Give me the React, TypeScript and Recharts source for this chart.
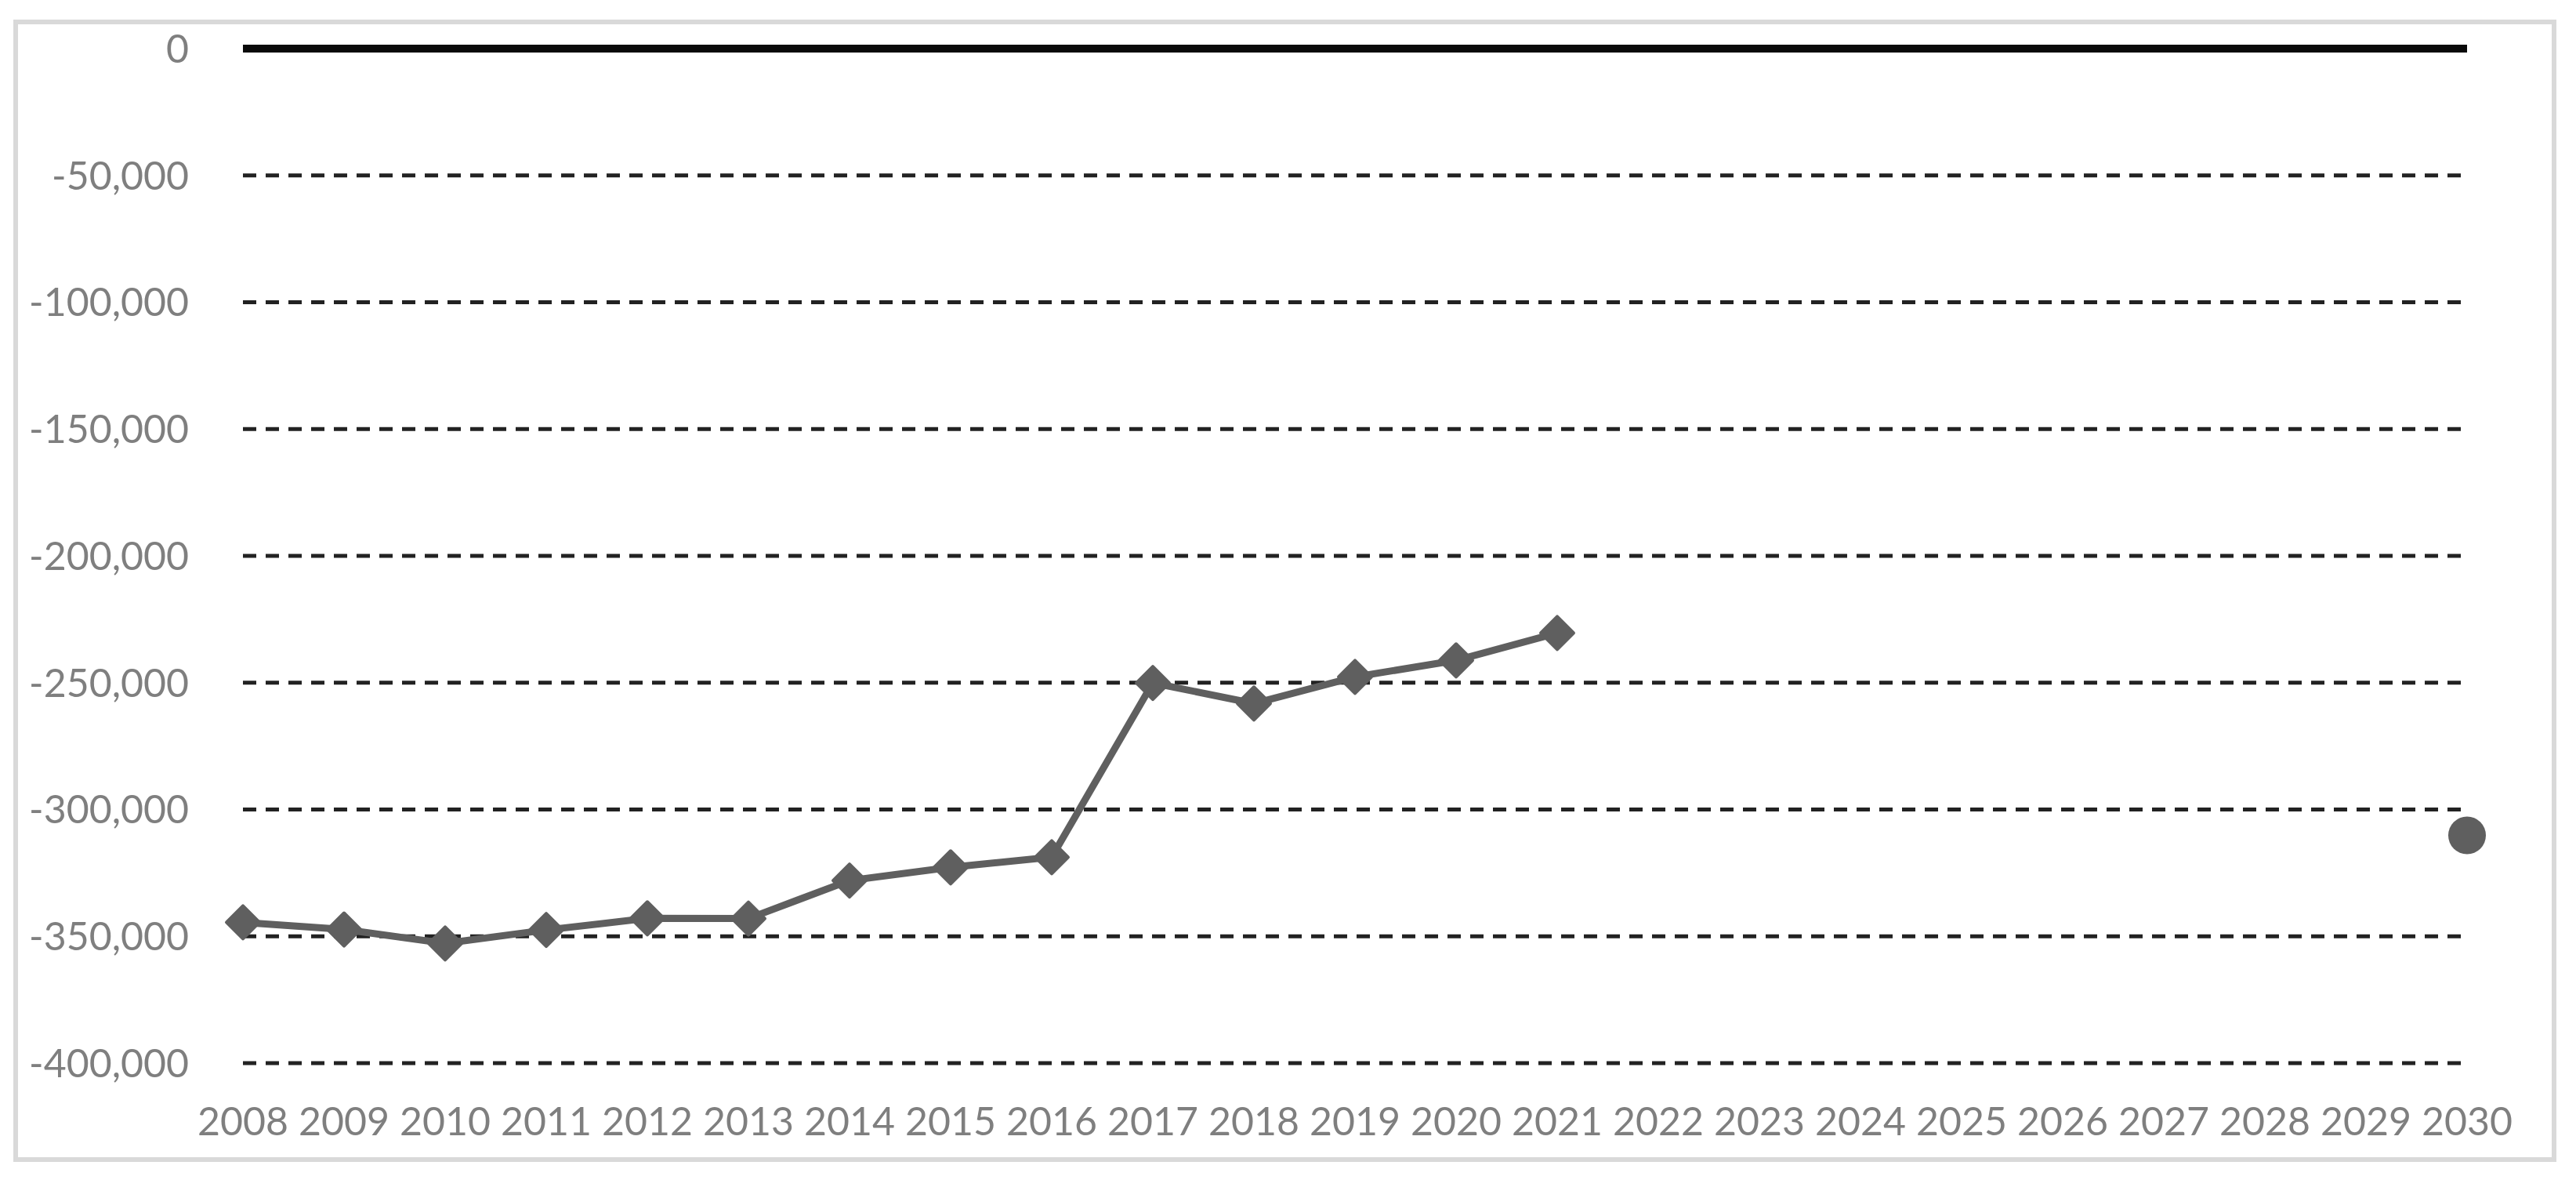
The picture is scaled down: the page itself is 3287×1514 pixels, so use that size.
import React from "react";
import {
  LineChart,
  Line,
  XAxis,
  YAxis,
  CartesianGrid,
  ReferenceLine,
} from "recharts";

const years = [
  "2008", "2009", "2010", "2011", "2012", "2013", "2014", "2015",
  "2016", "2017", "2018", "2019", "2020", "2021", "2022", "2023",
  "2024", "2025", "2026", "2027", "2028", "2029", "2030",
];

// observed values, 2008-2021
const actual = [
  -344500, -347300, -352800, -347500, -342900, -343000, -328000,
  -322800, -318800, -250100, -258200, -247700, -241200, -230400,
];

// single target point for 2030
const targetYear = "2030";
const targetValue = -310200;

const yTicks = [0, -50000, -100000, -150000, -200000, -250000, -300000, -350000, -400000];

const data = years.map((year, i) => ({
  year,
  actual: i < actual.length ? actual[i] : null,
  target: year === targetYear ? targetValue : null,
}));

const MARK = "#5f5f5f";
const TEXT = "#7f7f7f";
const FONT = "Lato, 'Open Sans', sans-serif";

const Diamond = (props: any) => {
  const { cx, cy, index } = props;
  if (cx == null || cy == null) return <g key={`d-${index}`} />;
  const h = 21;
  return (
    <polygon
      key={`d-${index}`}
      points={`${cx},${cy - h} ${cx + h},${cy} ${cx},${cy + h} ${cx - h},${cy}`}
      fill={MARK}
      stroke={MARK}
      strokeWidth={4}
      strokeLinejoin="round"
    />
  );
};

const Circle = (props: any) => {
  const { cx, cy, index } = props;
  if (cx == null || cy == null) return <g key={`c-${index}`} />;
  return <circle key={`c-${index}`} cx={cx} cy={cy} r={24} fill={MARK} />;
};

export default function App() {
  return (
    <div style={{ position: "absolute", left: 0, top: 0, width: 3287, height: 1514, background: "#fff" }}>
      <div
        style={{
          position: "absolute",
          left: 17,
          top: 25,
          width: 3245,
          height: 1457,
          boxSizing: "border-box",
          border: "6px solid #d9d9d9",
        }}
      />
      <div style={{ position: "absolute", left: 0, top: 0 }}>
        <LineChart
          width={3287}
          height={1514}
          data={data}
          margin={{ top: 62, right: 139, bottom: 58, left: 0 }}
        >
          <CartesianGrid
            vertical={false}
            stroke="#222222"
            strokeWidth={5}
            strokeDasharray="17 12"
          />
          <XAxis
            dataKey="year"
            interval={0}
            axisLine={false}
            tickLine={false}
            tickSize={0}
            tickMargin={56}
            height={100}
            tick={{ fontSize: 50, fill: TEXT, fontFamily: FONT }}
          />
          <YAxis
            domain={[-400000, 0]}
            ticks={yTicks}
            width={310}
            axisLine={false}
            tickLine={false}
            tickSize={0}
            tickMargin={69}
            tick={{ fontSize: 50, fill: TEXT, fontFamily: FONT }}
            tickFormatter={(v: number) => v.toLocaleString("en-US")}
          />
          <ReferenceLine y={0} stroke="#0a0a0a" strokeWidth={10} />
          <Line
            type="linear"
            dataKey="actual"
            stroke={MARK}
            strokeWidth={9}
            dot={Diamond}
            activeDot={false}
            isAnimationActive={false}
          />
          <Line
            type="linear"
            dataKey="target"
            stroke="none"
            dot={Circle}
            activeDot={false}
            isAnimationActive={false}
          />
        </LineChart>
      </div>
    </div>
  );
}
